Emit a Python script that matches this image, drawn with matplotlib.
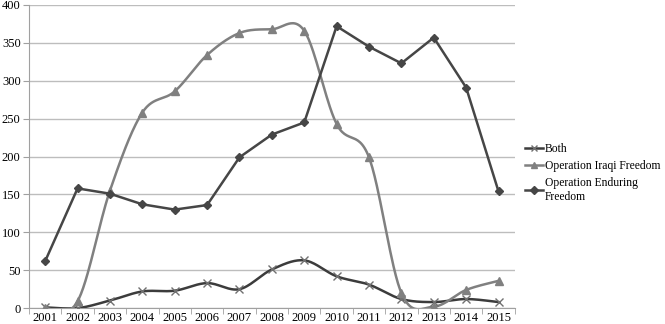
import numpy as np
import matplotlib
matplotlib.use("Agg")
import matplotlib.pyplot as plt
from matplotlib.lines import Line2D

plt.rcParams['font.family'] = ['Liberation Serif', 'DejaVu Serif']

years = ["2001", "2002", "2003", "2004", "2005", "2006", "2007", "2008",
         "2009", "2010", "2011", "2012", "2013", "2014", "2015"]
both = [1, 0, 10, 22, 23, 33, 25, 51, 63, 42, 31, 12, 8, 12, 8]
iraqi = [0, 9, 155, 258, 286, 334, 363, 368, 366, 243, 199, 20, 2, 24, 36]
enduring = [62, 158, 151, 137, 130, 136, 199, 229, 245, 372, 345, 323, 357, 291, 154]
y_ticks = [0, 50, 100, 150, 200, 250, 300, 350, 400]


def smooth(xs, ys, n=30):
    xs = np.asarray(xs, float)
    ys = np.asarray(ys, float)
    px, py = [], []
    m = len(xs)
    for i in range(m - 1):
        x0, y0 = (xs[i - 1], ys[i - 1]) if i > 0 else (xs[i], ys[i])
        x1, y1 = xs[i], ys[i]
        x2, y2 = xs[i + 1], ys[i + 1]
        x3, y3 = (xs[i + 2], ys[i + 2]) if i + 2 < m else (x2, y2)
        c1x, c1y = x1 + (x2 - x0) / 6, y1 + (y2 - y0) / 6
        c2x, c2y = x2 - (x3 - x1) / 6, y2 - (y3 - y1) / 6
        t = np.linspace(0, 1, n)
        bx = (1 - t) ** 3 * x1 + 3 * (1 - t) ** 2 * t * c1x + 3 * (1 - t) * t ** 2 * c2x + t ** 3 * x2
        by = (1 - t) ** 3 * y1 + 3 * (1 - t) ** 2 * t * c1y + 3 * (1 - t) * t ** 2 * c2y + t ** 3 * y2
        px.extend(bx)
        py.extend(by)
    return px, py


fig = plt.figure(figsize=(6.65, 3.24), dpi=100)
ax = fig.add_axes([0.0436, 0.049, 0.7304, 0.9356])

x = np.arange(len(years))
c_both = "#3c3c3c"
c_iraqi = "#808080"
c_end = "#464646"

sx, sy = smooth(x, both)
ax.plot(sx, sy, color=c_both, lw=1.8, zorder=3)
ax.plot(x, both, ls="none", marker="x", ms=6, mew=1.0, color="#707070", zorder=4)

sx, sy = smooth(x, iraqi)
ax.plot(sx, sy, color=c_iraqi, lw=1.8, zorder=3)
ax.plot(x, iraqi, ls="none", marker="^", ms=6, color=c_iraqi, zorder=4)

ax.plot(x, enduring, color=c_end, lw=1.8, marker="D", ms=4.5, zorder=5)

ax.set_xlim(-0.5, len(years) - 0.5)
ax.set_ylim(0, 400)
ax.set_yticks(y_ticks)
ax.set_xticks(x)
ax.set_xticklabels(years)
ax.set_xticks(np.arange(-0.5, len(years), 1), minor=True)
ax.tick_params(axis="x", which="major", length=0, labelsize=9, pad=3)
ax.tick_params(axis="x", which="minor", length=4, color="#a0a0a0")
ax.tick_params(axis="y", length=4, color="#a0a0a0", labelsize=9, pad=2)
ax.yaxis.grid(True, color="#bdbdbd", lw=1.0)
ax.set_axisbelow(True)
for s in ["top", "right"]:
    ax.spines[s].set_visible(False)
ax.spines["left"].set_color("#a0a0a0")
ax.spines["bottom"].set_color("#a0a0a0")

handles = [
    Line2D([], [], color=c_both, lw=1.8, marker="x", ms=5, mec="#707070"),
    Line2D([], [], color=c_iraqi, lw=1.8, marker="^", ms=5),
    Line2D([], [], color=c_end, lw=1.8, marker="D", ms=4),
]
labels = ["Both", "Operation Iraqi Freedom", "Operation Enduring\nFreedom"]
fig.legend(handles, labels, loc="upper left", bbox_to_anchor=(0.783, 0.572),
           frameon=False, fontsize=8.4, handlelength=1.5, handletextpad=0.2,
           labelspacing=0.42, borderaxespad=0)

fig.savefig("out.png", dpi=100)
